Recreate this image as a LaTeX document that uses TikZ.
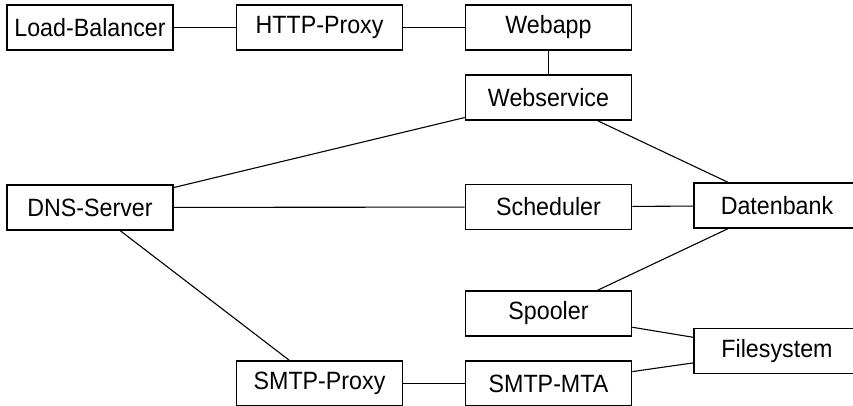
\documentclass[tikz,border=0pt]{standalone}
\usepackage{fontspec}
\setmainfont{Liberation Sans}[FakeStretch=0.93]
\begin{document}
\begin{tikzpicture}[x=1pt,y=-1pt,
  box/.style={draw, line width=1.6pt, minimum width=166pt, minimum height=45pt, inner sep=0pt, font=\fontsize{25}{29}\selectfont},
  conn/.style={line width=1.1pt}]
\useasboundingbox (0,0) rectangle (853,406);
\node[box] (lb) at (90,27.5) {Load-Balancer};
\node[box] (http) at (319.5,27.5) {HTTP-Proxy};
\node[box] (webapp) at (548.5,27.5) {Webapp};
\node[box] (ws) at (548.5,97.5) {Webservice};
\node[box] (dns) at (90,207.5) {DNS-Server};
\node[box] (sched) at (548.5,207) {Scheduler};
\node[box] (db) at (777,205.5) {Datenbank};
\node[box] (spool) at (548.5,313.5) {Spooler};
\node[box] (fs) at (777,351) {Filesystem};
\node[box] (sproxy) at (319.5,383.5) {SMTP-Proxy};
\node[box] (mta) at (548.5,383.5) {SMTP-MTA};
\draw[conn] (lb) -- (http);
\draw[conn] (http) -- (webapp);
\draw[conn] (webapp) -- (ws);
\draw[conn] (ws) -- (dns);
\draw[conn] (ws) -- (db);
\draw[conn] (dns) -- (sched);
\draw[conn] (dns) -- (sproxy);
\draw[conn] (sched) -- (db);
\draw[conn] (db) -- (spool);
\draw[conn] (spool) -- (fs);
\draw[conn] (mta) -- (fs);
\draw[conn] (sproxy) -- (mta);
\end{tikzpicture}
\end{document}
